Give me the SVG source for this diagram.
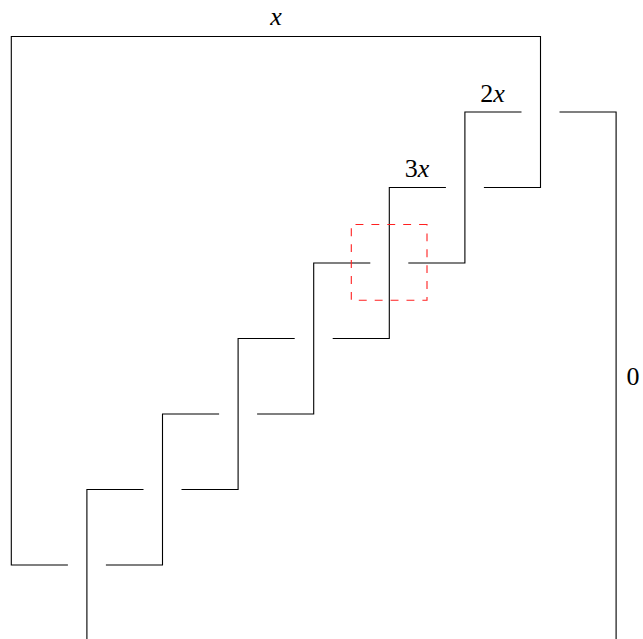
<svg xmlns="http://www.w3.org/2000/svg" width="643" height="639" viewBox="0 0 643 639">
<style>
.s{fill:none;stroke:#000;stroke-width:1.1;stroke-linejoin:miter}
.r{fill:none;stroke:#ff2020;stroke-width:1.1;stroke-dasharray:7.9 8}
.t{font-family:"Liberation Serif","DejaVu Serif",serif;font-size:26px;fill:#000;text-anchor:middle}
.i{font-style:italic}
</style>
<rect width="643" height="639" fill="#fff"/>
<g id="connectors">
<path class="s" d="M67.9 565 H11.3 V36.5 H540.5 V187.5 H483.9"/>
<path class="s" d="M559.5 112 H616.1 V645"/>
<path class="s" d="M143.5 489.5 H86.9 V645"/>
<path class="s" d="M105.9 565 H162.5 V414 H219.1"/>
<path class="s" d="M181.5 489.5 H238.1 V338.5 H294.7"/>
<path class="s" d="M257.1 414 H313.7 V263 H370.3"/>
<path class="s" d="M332.7 338.5 H389.3 V187.5 H445.9"/>
<path class="s" d="M408.3 263 H464.9 V112 H521.5"/>
</g>
<g id="highlight">
<path class="r" d="M427 224.5 H351.3 V300.3 H427 Z"/>
</g>
<g id="label-x"><text class="t i" x="276" y="25">x</text></g>
<g id="label-2x"><text class="t" x="492.5" y="102">2<tspan class="i">x</tspan></text></g>
<g id="label-3x"><text class="t" x="417" y="177">3<tspan class="i">x</tspan></text></g>
<g id="label-0"><text class="t" x="633" y="385">0</text></g>
</svg>
